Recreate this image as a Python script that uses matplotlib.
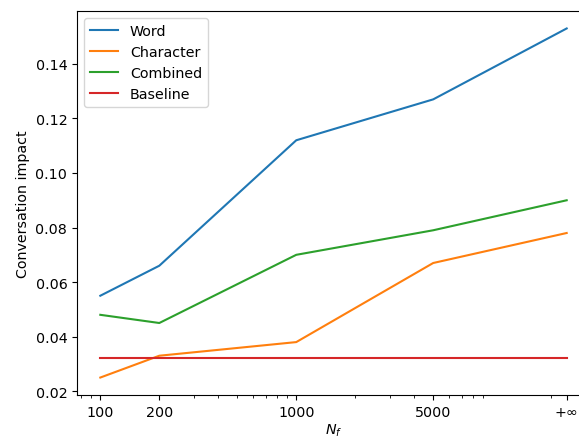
import matplotlib
matplotlib.use("Agg")
import matplotlib.pyplot as plt
from matplotlib.ticker import FixedLocator, FixedFormatter

# Vocabulary sizes N_f; the last point stands for an unbounded vocabulary
n_f = [100, 200, 1000, 5000, 24000]
tick_labels = ["100", "200", "1000", "5000", "+∞"]

word = [0.055, 0.066, 0.112, 0.127, 0.153]
character = [0.025, 0.033, 0.038, 0.067, 0.078]
combined = [0.048, 0.045, 0.070, 0.079, 0.090]
baseline = [0.032, 0.032, 0.032, 0.032, 0.032]

plt.rcParams["font.size"] = 10.3

fig = plt.figure(figsize=(5.79, 4.39), dpi=100)
ax = fig.add_axes([77 / 579, 1 - 396 / 439, 513 / 579, 384 / 439])

ax.plot(n_f, word, label="Word")
ax.plot(n_f, character, label="Character")
ax.plot(n_f, combined, label="Combined")
ax.plot(n_f, baseline, label="Baseline")

ax.set_xscale("log")
ax.xaxis.set_major_locator(FixedLocator(n_f))
ax.xaxis.set_major_formatter(FixedFormatter(tick_labels))
ax.spines["right"].set_visible(False)

ax.set_xlabel("$N_f$", labelpad=2)
ax.set_ylabel("Conversation impact")
ax.legend(loc="upper left")

fig.savefig("out.png", dpi=100)
